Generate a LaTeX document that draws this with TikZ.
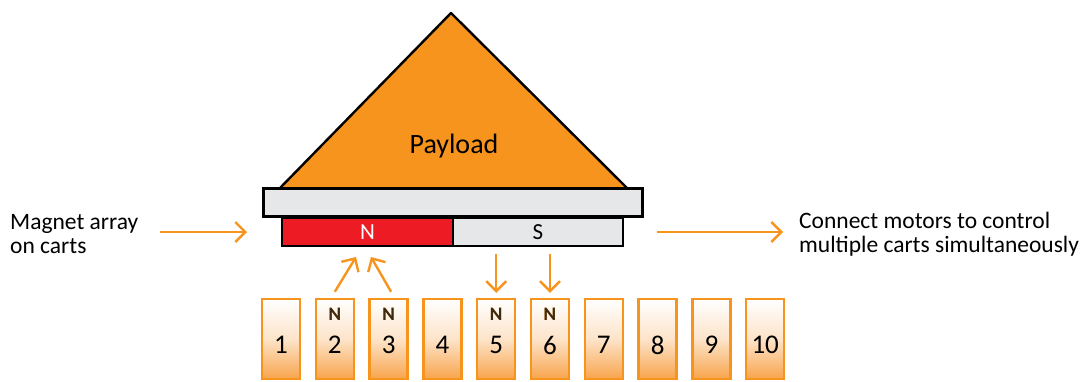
\documentclass[tikz,border=0pt]{standalone}
\usepackage{fontspec}
\setmainfont{Carlito}
\usepackage[outline]{contour}
\contourlength{0.8pt}
\usetikzlibrary{arrows.meta,calc}
\definecolor{payorange}{HTML}{F7941E}
\definecolor{linkorange}{HTML}{F7941D}
\definecolor{magred}{HTML}{ED1C24}
\definecolor{plate}{HTML}{E6E7E8}
\definecolor{cartbot}{HTML}{F8A44C}
\definecolor{polebrown}{HTML}{3C2A12}
\begin{document}
\begin{tikzpicture}[x=1pt,y=-1pt,
  outline/.style={draw=black,line width=2.4pt},
  cart/.style={draw=linkorange,line width=2.4pt,minimum width=38pt,minimum height=80pt,
    inner sep=0pt,top color=white,bottom color=cartbot,middle color=white!70!cartbot},
  cartnum/.style={font=\fontsize{27}{27}\selectfont},
  pole/.style={font=\fontsize{19}{19}\selectfont\bfseries},
  arr/.style={draw=linkorange,line width=2.4pt,-{Straight Barb[length=10pt,width=20pt]}},
  caption/.style={font=\fontsize{23.5}{24}\selectfont,align=left,inner sep=0pt}]
\useasboundingbox (0,0) rectangle (1085,381);

% payload triangle sitting on the carrier plate
\fill[payorange] (451,13) -- (280,188) -- (627,188) -- cycle;
\draw[line width=2.4pt,line join=round] (280,188) -- (451,13) -- (627,188);
\node[font=\fontsize{28}{28}\selectfont] (payload) at (454,146) {Payload};

% carrier plate and magnet array
\node[outline,fill=plate,minimum width=379pt,minimum height=28pt,inner sep=0pt] (plate) at (453,202.5) {};
\node[outline,fill=magred,minimum width=171pt,minimum height=28pt,inner sep=0pt,
  text=white,font=\fontsize{23}{23}\selectfont] (magN) at (367.5,232) {N};
\node[outline,fill=plate,minimum width=170pt,minimum height=28pt,inner sep=0pt,
  font=\fontsize{23}{23}\selectfont] (magS) at (538,232) {S};

% row of carts
\foreach \i in {1,...,10}{
  \node[cart] (cart\i) at ({281+(\i-1)*53.8},339) {};
  \node[cartnum] (num\i) at ($(cart\i.center)+(0,6)$) {\i};
}
\foreach \i in {2,3,5,6}{
  \node[pole] (pole\i) at ($(cart\i.center)+(0,-25)$) {\contour{linkorange}{\textcolor{polebrown}{N}}};
}

% attraction / repulsion arrows
\coordinate (up2) at (356,257);
\coordinate (up3) at (371,257);
\draw[arr] ([yshift=6pt]cart2.north) -- (up2);
\draw[arr] ([yshift=6pt,xshift=2.5pt]cart3.north) -- (up3);
\draw[arr] ([yshift=-7pt]magS.south -| cart5.north) -- ([yshift=5pt]cart5.north);
\draw[arr] ([yshift=-7pt]magS.south -| cart6.north) -- ([yshift=5pt]cart6.north);

% side captions
\node[caption,anchor=west] (lefttext) at (10,234) {Magnet array\\on carts};
\node[caption,anchor=west] (righttext) at (799,234) {Connect motors to control\\multiple carts simultaneously};
\coordinate (leftend) at (247,232);
\coordinate (rightstart) at (657,232);
\draw[arr] (160,232) -- (leftend);
\draw[arr] (rightstart) -- (783,232);
\end{tikzpicture}
\end{document}
